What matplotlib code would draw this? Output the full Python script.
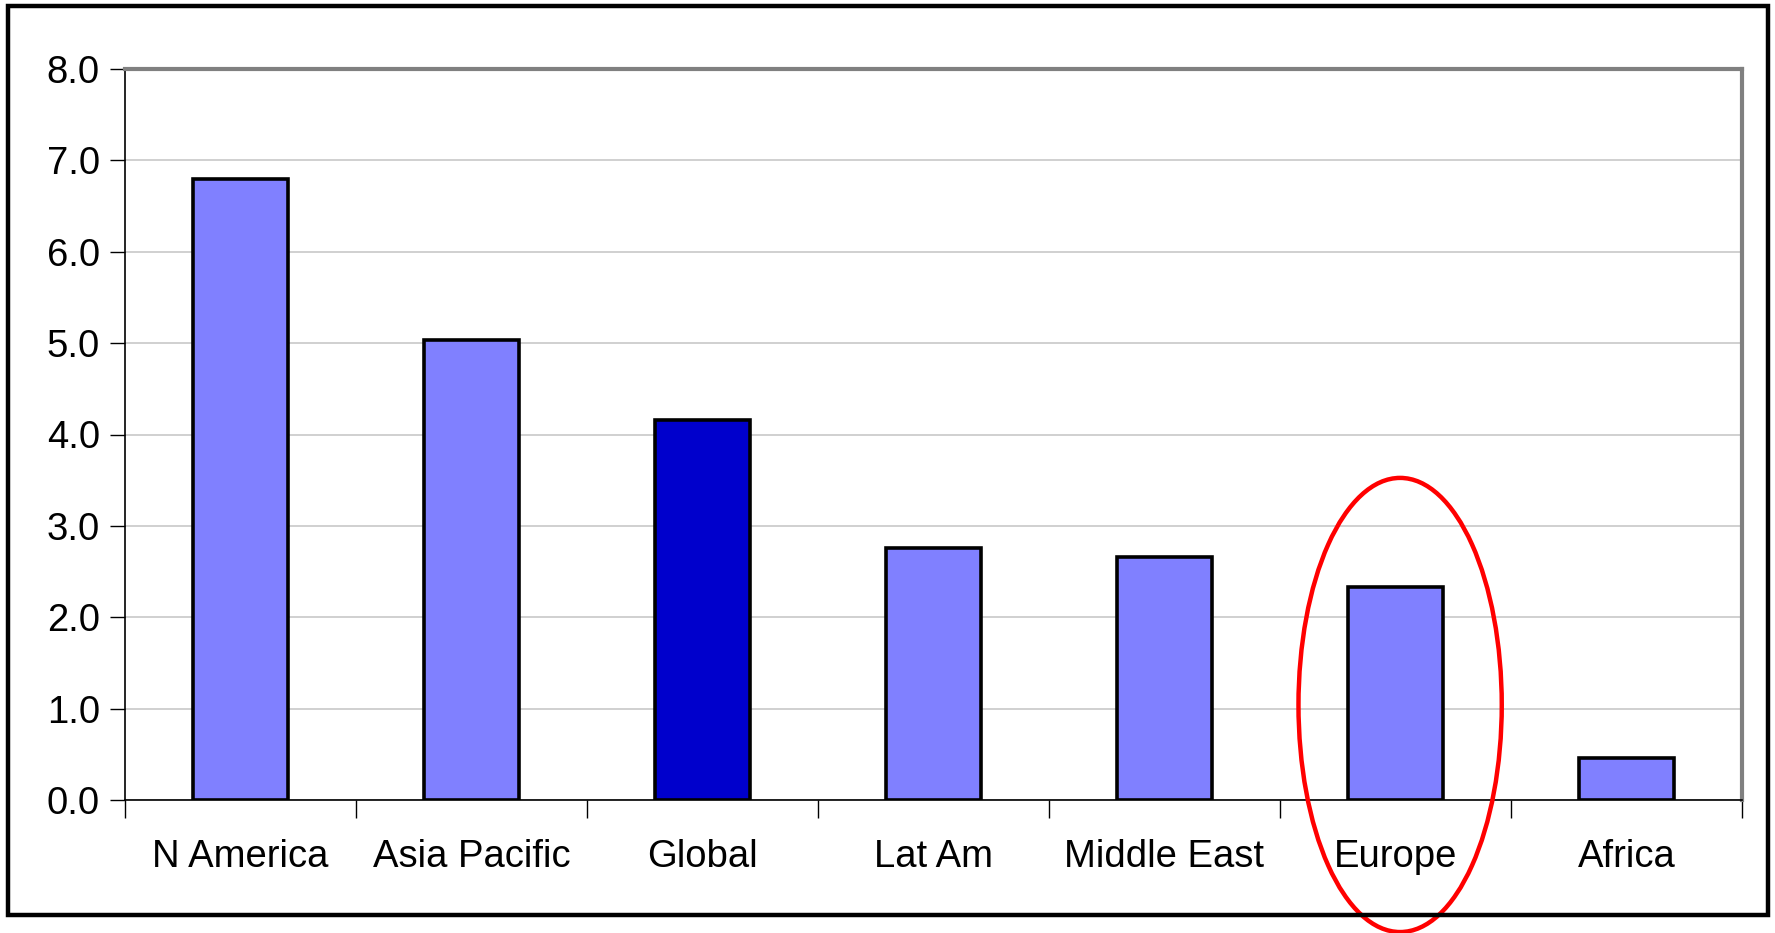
import matplotlib.pyplot as plt
from matplotlib.patches import Ellipse, Rectangle

plt.rcParams['font.family'] = ['Liberation Sans', 'DejaVu Sans']

regions = ['N America', 'Asia Pacific', 'Global', 'Lat Am', 'Middle East', 'Europe', 'Africa']
values = [6.80, 5.03, 4.16, 2.76, 2.66, 2.33, 0.46]
colors = ['#8080ff', '#8080ff', '#0000cc', '#8080ff', '#8080ff', '#8080ff', '#8080ff']
yticks = [0, 1, 2, 3, 4, 5, 6, 7, 8]

fig = plt.figure(figsize=(17.75, 9.33), dpi=100)
ax = fig.add_axes([125 / 1775, 1 - 800 / 933, 1617 / 1775, 731 / 933])

x = list(range(len(regions)))
ax.bar(x, values, width=0.41, color=colors, edgecolor='black', linewidth=2.6, zorder=3)

ax.set_xlim(-0.5, len(regions) - 0.5)
ax.set_ylim(0, 8)
ax.set_yticks(yticks)
ax.set_yticklabels([f'{v:.1f}' for v in yticks])
ax.set_xticks(x)
ax.set_xticklabels(regions)
ax.set_xticks([i - 0.5 for i in range(len(regions) + 1)], minor=True)

ax.tick_params(axis='y', labelsize=27.5, length=11, width=1, pad=7, direction='out')
ax.tick_params(axis='x', which='major', labelsize=27.5, length=0, pad=28)
ax.tick_params(axis='x', which='minor', length=13, width=1, direction='out')

ax.grid(axis='y', color='#c8c8c8', linewidth=1.2, zorder=0)
ax.set_axisbelow(True)

for s in ['top', 'right']:
    ax.spines[s].set_color('#808080')
    ax.spines[s].set_linewidth(3)
ax.spines['left'].set_color('black')
ax.spines['left'].set_linewidth(1.2)
ax.spines['bottom'].set_color('black')
ax.spines['bottom'].set_linewidth(1.2)

# red highlight round Europe
ax.add_patch(Ellipse((5.02, 1.04), 0.88, 4.97, fill=False, edgecolor='#ff0000',
                     linewidth=3.2, clip_on=False, zorder=5))

# outer frame
fig.add_artist(Rectangle((8 / 1775, 1 - 915 / 933), 1760 / 1775, 909 / 933,
                         transform=fig.transFigure, fill=False,
                         edgecolor='black', linewidth=3.2))

fig.savefig('out.png', dpi=100)
